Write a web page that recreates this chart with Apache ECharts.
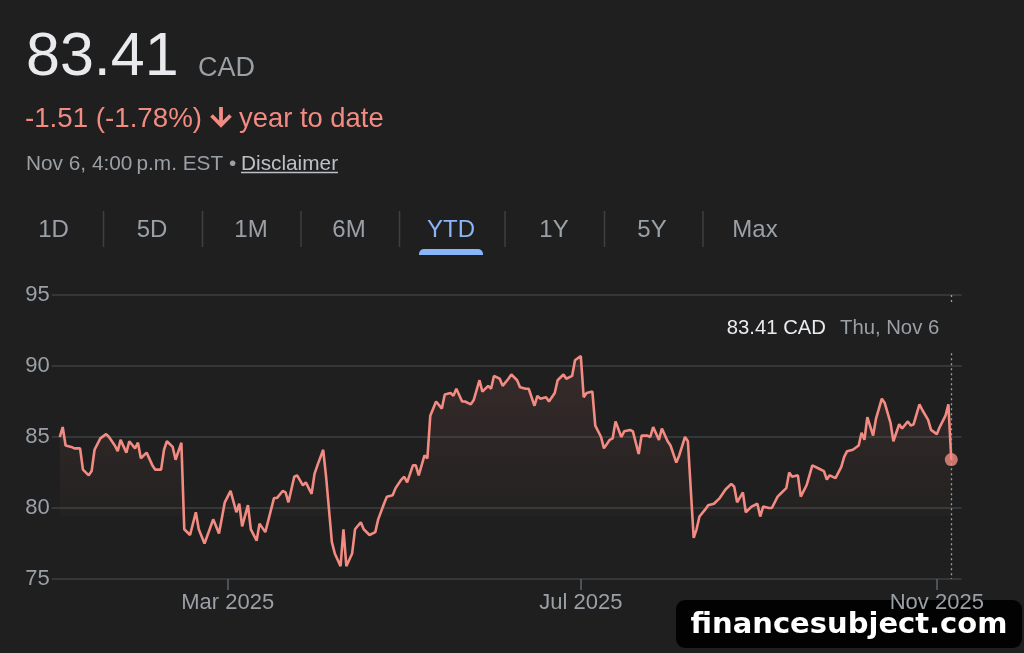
<!DOCTYPE html>
<html><head><meta charset="utf-8">
<script src="https://cdn.jsdelivr.net/npm/echarts@6/dist/echarts.min.js"></script>
<style>html,body{margin:0;padding:0;background:#1f1f1f;}#c{width:1024px;height:653px;}</style>
</head><body><div id="c"></div>
<script>
const dates = [
'2025-01-02','2025-01-03','2025-01-04','2025-01-06','2025-01-07','2025-01-09','2025-01-10','2025-01-12','2025-01-13','2025-01-14','2025-01-16','2025-01-18','2025-01-19','2025-01-21','2025-01-22','2025-01-23','2025-01-25','2025-01-26','2025-01-28','2025-01-29','2025-01-30',
'2025-02-01','2025-02-03','2025-02-04','2025-02-06','2025-02-07','2025-02-08','2025-02-10','2025-02-11','2025-02-13','2025-02-14','2025-02-16','2025-02-18','2025-02-19','2025-02-21','2025-02-24','2025-02-26','2025-02-28',
'2025-03-02','2025-03-04','2025-03-05','2025-03-06','2025-03-08','2025-03-09','2025-03-11','2025-03-12','2025-03-14','2025-03-17','2025-03-18','2025-03-20','2025-03-21','2025-03-22','2025-03-24','2025-03-25','2025-03-27','2025-03-28','2025-03-30','2025-03-31',
'2025-04-01','2025-04-03','2025-04-04','2025-04-06','2025-04-07','2025-04-09','2025-04-10','2025-04-11','2025-04-13','2025-04-14','2025-04-16','2025-04-17','2025-04-19','2025-04-21','2025-04-22','2025-04-24','2025-04-25','2025-04-27','2025-04-28','2025-04-30',
'2025-05-01','2025-05-02','2025-05-04','2025-05-05','2025-05-06','2025-05-08','2025-05-09','2025-05-10','2025-05-12','2025-05-14','2025-05-15','2025-05-17','2025-05-18','2025-05-19','2025-05-21','2025-05-22','2025-05-24','2025-05-25','2025-05-27','2025-05-28','2025-05-30','2025-05-31',
'2025-06-01','2025-06-03','2025-06-04','2025-06-06','2025-06-07','2025-06-09','2025-06-10','2025-06-12','2025-06-13','2025-06-15','2025-06-16','2025-06-17','2025-06-19','2025-06-20','2025-06-22','2025-06-23','2025-06-25','2025-06-26','2025-06-28','2025-06-29',
'2025-07-01','2025-07-02','2025-07-03','2025-07-05','2025-07-06','2025-07-08','2025-07-09','2025-07-11','2025-07-12','2025-07-13','2025-07-15','2025-07-16','2025-07-18','2025-07-19','2025-07-21','2025-07-22','2025-07-24','2025-07-25','2025-07-26','2025-07-28','2025-07-29','2025-07-31',
'2025-08-01','2025-08-03','2025-08-04','2025-08-06','2025-08-07','2025-08-09','2025-08-10','2025-08-11','2025-08-13','2025-08-14','2025-08-16','2025-08-18','2025-08-19','2025-08-20','2025-08-22','2025-08-23','2025-08-24','2025-08-26','2025-08-27','2025-08-29','2025-08-31',
'2025-09-01','2025-09-02','2025-09-04','2025-09-05','2025-09-07','2025-09-08','2025-09-10','2025-09-11','2025-09-12','2025-09-14','2025-09-15','2025-09-17','2025-09-19','2025-09-21','2025-09-23','2025-09-24','2025-09-25','2025-09-27','2025-09-29','2025-09-30',
'2025-10-01','2025-10-03','2025-10-05','2025-10-06','2025-10-07','2025-10-08','2025-10-10','2025-10-11','2025-10-13','2025-10-14','2025-10-16','2025-10-17','2025-10-19','2025-10-20','2025-10-22','2025-10-23','2025-10-24','2025-10-26','2025-10-27','2025-10-29','2025-10-30',
'2025-11-01','2025-11-02','2025-11-04','2025-11-05','2025-11-06'
];
const prices = [
85.0,85.7,84.4,84.3,84.2,84.2,82.7,82.3,82.6,84.1,84.9,85.2,85.0,84.4,84.0,84.8,83.9,84.7,84.2,84.6,83.5,
83.9,83.0,82.7,82.7,84.1,84.7,84.3,83.4,84.6,78.5,78.1,79.7,78.5,77.5,79.2,78.2,80.4,
81.2,79.7,80.3,78.7,80.2,78.5,77.7,78.9,78.3,80.7,80.7,81.2,81.1,80.4,82.2,82.3,81.6,81.8,81.0,82.4,
83.0,84.1,82.2,77.6,76.8,75.9,78.5,75.9,76.8,78.5,79.0,78.5,78.1,78.3,79.2,80.3,80.8,80.9,81.4,82.0,
82.2,81.8,83.0,83.0,82.3,83.7,83.5,86.5,87.5,87.0,88.0,88.1,87.9,88.4,87.5,87.5,87.3,87.6,89.0,88.2,88.6,88.4,
89.3,89.1,88.6,89.1,89.4,89.0,88.5,88.4,88.4,87.2,87.9,87.7,87.8,87.5,88.1,89.0,89.4,89.1,89.3,90.4,
90.7,87.8,88.1,88.2,85.8,85.0,84.2,84.8,84.9,86.1,85.0,85.4,85.5,85.4,83.8,85.1,85.1,85.0,85.7,84.8,85.6,84.7,
84.4,83.2,83.7,85.0,84.7,77.9,78.5,79.4,79.9,80.2,80.3,80.7,81.0,81.3,81.7,81.5,80.4,81.1,79.7,80.1,80.3,
79.4,80.1,80.0,80.0,80.8,81.0,81.4,82.5,82.2,82.3,80.8,81.6,83.0,82.8,82.6,82.0,82.3,82.1,82.9,83.6,
84.0,84.1,84.4,85.3,84.8,86.4,85.1,86.3,87.7,87.4,86.0,84.7,85.9,85.6,86.1,85.8,85.9,87.3,86.9,86.2,85.5,
85.2,85.7,86.5,87.3,83.41
];
const xTickDates = ['2025-03-01','2025-07-01','2025-11-01'];
const monthNames = ['Jan','Feb','Mar','Apr','May','Jun','Jul','Aug','Sep','Oct','Nov','Dec'];
const tabs = ['1D','5D','1M','6M','YTD','1Y','5Y','Max'];
const activeTab = 'YTD';
const priceText = '83.41';
const currency = 'CAD';
const changeText = '-1.51 (-1.78%)';
const periodText = 'year to date';
const stampText = 'Nov 6, 4:00\u2009p.m. EST \u2022 ';
const disclaimerText = 'Disclaimer';
const tipDate = 'Thu, Nov 6';
const watermark = 'financesubject.com';

// layout (styles / positions only)
const tabCenters = [53.5, 152, 251, 349, 451, 554, 652, 755];
const tabSeps = [103.5, 202.5, 301, 399.5, 505, 604.5, 703];
const FONT = '"Liberation Sans", Arial, Helvetica, sans-serif';
const RED = '#f28b82';
const GREY = '#9aa0a6';

function ts(s){ const p=s.split('-').map(Number); return new Date(p[0],p[1]-1,p[2]).getTime(); }
const lastIdx = dates.length-1;
const lastT = ts(dates[lastIdx]);
const lastPrice = prices[lastIdx];
const seriesData = dates.map((d,i)=>[ts(d), prices[i]]);
const tickVals = xTickDates.map(ts);

const graphic = [];
graphic.push({type:'text', x:26, y:58, style:{text:priceText, font:'61px '+FONT, fill:'#e8eaed', textVerticalAlign:'middle'}});
graphic.push({type:'text', x:198, y:69, style:{text:currency, font:'27px '+FONT, fill:GREY, textVerticalAlign:'middle'}});
graphic.push({type:'text', x:25, y:119, style:{text:changeText, font:'27.7px '+FONT, fill:RED, textVerticalAlign:'middle'}});
graphic.push({type:'polyline', shape:{points:[[221,107],[221,124]]}, style:{stroke:RED, lineWidth:3.8, fill:null}});
graphic.push({type:'polyline', shape:{points:[[211.5,115.5],[221,125],[230.5,115.5]]}, style:{stroke:RED, lineWidth:3.8, fill:null, lineJoin:'miter'}});
graphic.push({type:'text', x:239, y:119, style:{text:periodText, font:'27.4px '+FONT, fill:RED, textVerticalAlign:'middle'}});
graphic.push({type:'text', x:26, y:164, style:{text:stampText, font:'20.8px '+FONT, fill:GREY, textVerticalAlign:'middle'}});
graphic.push({type:'text', x:241, y:164, style:{text:disclaimerText, font:'20.8px '+FONT, fill:'#bdc1c6', textVerticalAlign:'middle'}});
graphic.push({type:'line', shape:{x1:241, y1:172.5, x2:338, y2:172.5}, style:{stroke:'#bdc1c6', lineWidth:1.5}});
tabs.forEach((t,i)=>{
  graphic.push({type:'text', x:tabCenters[i], y:230, style:{text:t, font:'24px '+FONT, fill: t===activeTab ? '#8ab4f8' : GREY, textAlign:'center', textVerticalAlign:'middle'}});
});
tabSeps.forEach(x=>{
  graphic.push({type:'line', shape:{x1:x, y1:211, x2:x, y2:247}, style:{stroke:'#3c4043', lineWidth:1.5}});
});
graphic.push({type:'rect', shape:{x:419, y:249, width:64, height:6, r:[5,5,0,0]}, style:{fill:'#8ab4f8'}});
graphic.push({type:'text', x:826, y:328, style:{text:lastPrice.toFixed(2)+' '+currency, font:'20.3px '+FONT, fill:'#e8eaed', textAlign:'right', textVerticalAlign:'middle'}});
graphic.push({type:'text', x:840, y:328, style:{text:tipDate, font:'20.3px '+FONT, fill:GREY, textVerticalAlign:'middle'}});
graphic.push({type:'rect', z:-5, shape:{x:676, y:600, width:346, height:48, r:9}, style:{fill:'rgba(0,0,0,0.92)'}});
graphic.push({type:'text', z:-4, x:849, y:625, style:{text:watermark, font:'bold 29px "DejaVu Sans", sans-serif', fill:'#ffffff', textAlign:'center', textVerticalAlign:'middle', textShadowColor:'rgba(90,90,90,0.9)', textShadowOffsetX:2, textShadowOffsetY:2, textShadowBlur:0}});

const chart = echarts.init(document.getElementById('c'), null, {renderer:'canvas'});
chart.setOption({
  backgroundColor:'#1f1f1f',
  animation:false,
  grid:{left:51.7, right:62.3, top:295, bottom:74, containLabel:false},
  xAxis:{
    type:'value', z:10,
    min: new Date(2024,11,30,4,48).getTime(),
    max: new Date(2025,10,9,14,24).getTime(),
    axisLine:{show:false},
    splitLine:{show:false},
    axisTick:{show:true, customValues:tickVals, length:11, lineStyle:{color:'#5f6368', width:1.5}},
    axisLabel:{customValues:tickVals, color:GREY, fontSize:22, fontFamily:FONT, margin:13,
      formatter:function(v){ const d=new Date(v); return monthNames[d.getMonth()]+' '+d.getFullYear(); }}
  },
  yAxis:{
    type:'value', min:75, max:95, interval:5,
    axisLine:{show:false}, axisTick:{show:false},
    axisLabel:{color:GREY, fontSize:22, fontFamily:FONT, margin:2},
    splitLine:{show:true, lineStyle:{color:'#3c4043', width:1.5}}
  },
  graphic: graphic,
  series:[
    {
      type:'line', data:seriesData, showSymbol:false, symbol:'none',
      lineStyle:{color:RED, width:2.6},
      areaStyle:{origin:'start', color:{type:'linear', x:0, y:356, x2:0, y2:517, global:true,
        colorStops:[{offset:0,color:'rgba(242,139,130,0.16)'},{offset:0.99,color:'rgba(242,139,130,0.03)'},{offset:1,color:'rgba(242,139,130,0)'}]}},
      markLine:{silent:true, symbol:'none', label:{show:false},
        lineStyle:{color:GREY, type:[2,3], width:1.3},
        data:[
          [{coord:[lastT,95]},{coord:[lastT,94.3]}],
          [{coord:[lastT,90.9]},{coord:[lastT,75]}]
        ]}
    },
    {
      type:'scatter', data:[[lastT,lastPrice]], symbolSize:13, itemStyle:{color:RED}, z:5
    }
  ]
});
</script></body></html>
